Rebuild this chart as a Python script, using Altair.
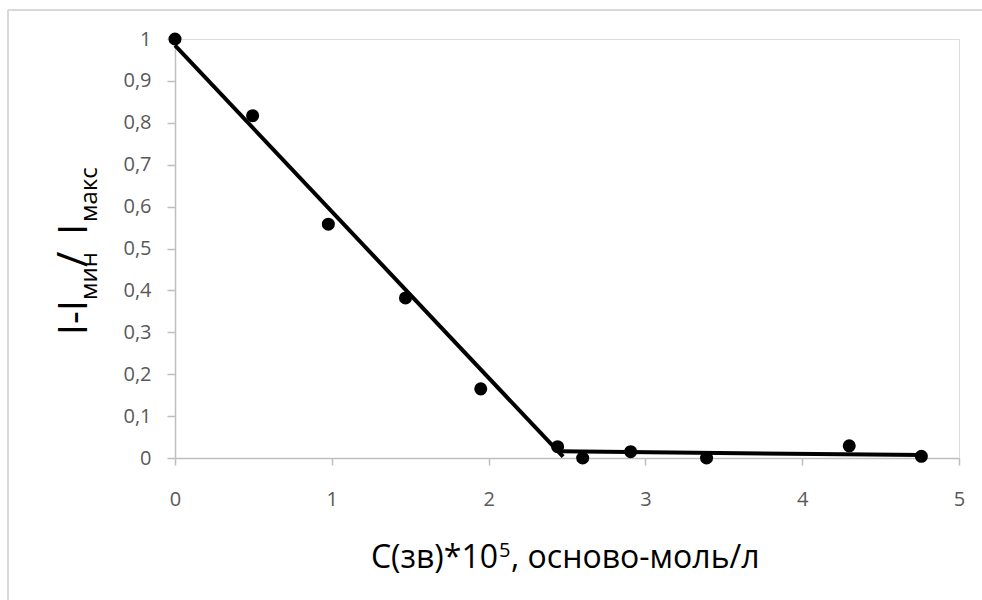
import altair as alt
import pandas as pd

# measured points
x_pts = [0, 0.495, 0.978, 1.47, 1.95, 2.44, 2.60, 2.906, 3.39, 4.30, 4.76]
y_pts = [1.0, 0.817, 0.558, 0.382, 0.165, 0.027, 0.0, 0.015, 0.0, 0.029, 0.004]

# two fitted segments
line1_x = [0.0, 2.475]
line1_y = [0.985, 0.003]
line2_x = [2.45, 4.77]
line2_y = [0.016, 0.007]

x_ticks = [0, 1, 2, 3, 4, 5]
y_ticks = [0, 0.1, 0.2, 0.3, 0.4, 0.5, 0.6, 0.7, 0.8, 0.9, 1.0]

FONT = "Open Sans"
GREY = "#bfbfbf"
LABEL = "#595959"

pts = pd.DataFrame({"x": x_pts, "y": y_pts})
lines = pd.DataFrame({
    "x": line1_x + line2_x,
    "y": line1_y + line2_y,
    "seg": ["a", "a", "b", "b"],
})

xs = alt.Scale(domain=[0, 5], nice=False, zero=False)
ys = alt.Scale(domain=[0, 1], nice=False)

x_axis = alt.Axis(values=x_ticks, title=None, grid=False, domainColor=GREY,
                  tickColor=GREY, tickSize=7, labelPadding=24, labelFontSize=20,
                  labelColor=LABEL, labelFont=FONT, domainWidth=1.5, tickWidth=1.5,
                  labelAlign="center", labelExpr="format(datum.value, 'd')")
y_axis = alt.Axis(values=y_ticks, title=None, grid=False, domainColor=GREY,
                  tickColor=GREY, tickSize=8, labelPadding=16, labelFontSize=20,
                  labelColor=LABEL, labelFont=FONT, domainWidth=1.5, tickWidth=1.5,
                  labelExpr="replace(format(datum.value, '.1~f'), '.', ',')")

line_layer = alt.Chart(lines).mark_line(color="black", strokeWidth=4).encode(
    x=alt.X("x:Q", scale=xs, axis=x_axis),
    y=alt.Y("y:Q", scale=ys, axis=y_axis),
    detail="seg:N",
)

point_layer = alt.Chart(pts).mark_circle(color="black", opacity=1, size=170).encode(
    x=alt.X("x:Q", scale=xs),
    y=alt.Y("y:Q", scale=ys),
)

def txt(text, x, y, size, angle=0, align="left"):
    return alt.Chart(pd.DataFrame({"t": [text]})).mark_text(
        font=FONT, fontSize=size, color="black", align=align,
        baseline="alphabetic", angle=angle,
    ).encode(text="t:N", x=alt.value(x), y=alt.value(y))

# y-axis title pieces (rotated)
yt = [
    txt("I-I", -88, 261, 40, 270, "right"),
    txt("мин", -78, 261, 24, 270, "left"),
    txt("/", -88, 228, 42, 270, "left"),
    txt("I", -88, 196, 40, 270, "left"),
    txt("макс", -78, 183, 24, 270, "left"),
]
# x-axis title pieces
xt = [
    txt("C(зв)*10", 323, 529, 32, 0, "right"),
    txt("5", 324, 518, 20, 0, "left"),
    txt(", осново-моль/л", 336, 529, 32, 0, "left"),
]

frame = [
    alt.Chart(pd.DataFrame({"a": [0]})).mark_rule(color="#d9d9d9", strokeWidth=2).encode(
        x=alt.value(-167), x2=alt.value(820), y=alt.value(-29)),
    alt.Chart(pd.DataFrame({"a": [0]})).mark_rule(color="#d9d9d9", strokeWidth=2).encode(
        x=alt.value(-167), y=alt.value(-29), y2=alt.value(570)),
]

chart = alt.layer(*frame, line_layer, point_layer, *yt, *xt).properties(
    width=784, height=419,
    autosize=alt.AutoSizeParams(type="none"),
    padding={"left": 175, "top": 39, "right": 23, "bottom": 142},
).configure_view(stroke=None).configure(background="white")

chart.save("out.html", embed_options={"renderer": "svg", "actions": False})
